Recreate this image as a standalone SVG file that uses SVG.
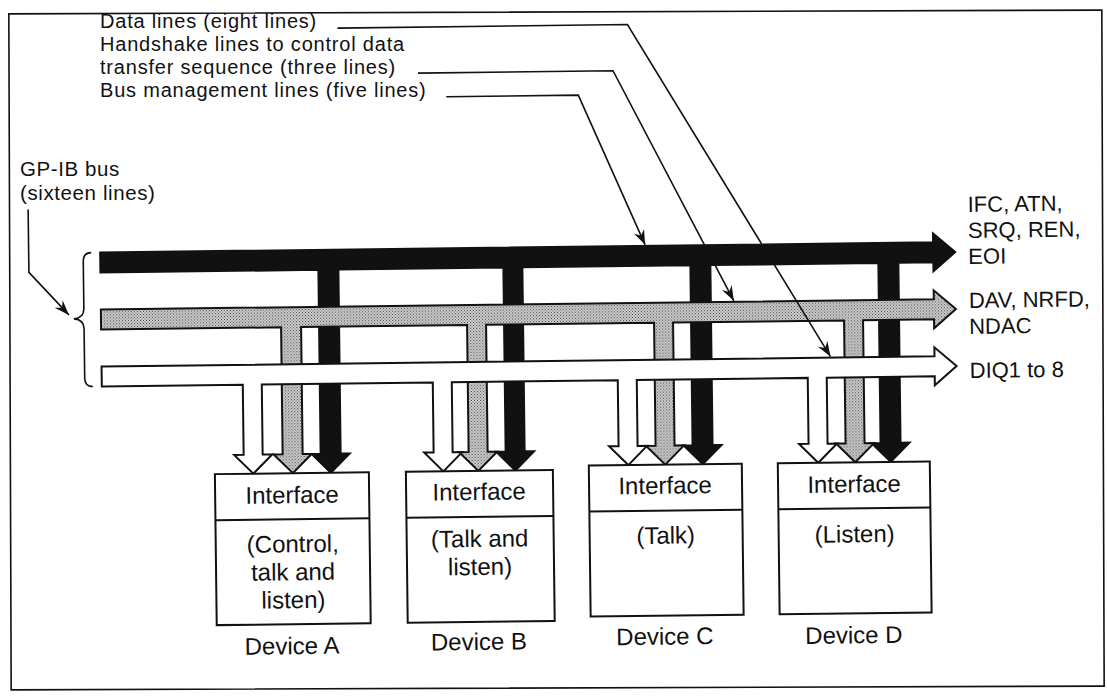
<svg xmlns="http://www.w3.org/2000/svg" width="1107" height="696" viewBox="0 0 1107 696">
  <style>
    .t { font-family: "Liberation Sans", Arial, Helvetica, sans-serif; font-size: 22px; fill: #111; }
    .tg { font-family: "Liberation Sans", Arial, Helvetica, sans-serif; font-size: 20.5px; letter-spacing: 0.6px; fill: #111; }
    .tt { font-family: "Liberation Sans", Arial, Helvetica, sans-serif; font-size: 20px; letter-spacing: 0.8px; fill: #111; }
    .dv { font-family: "Liberation Sans", Arial, Helvetica, sans-serif; font-size: 24px; fill: #111; text-anchor: middle; }
    .box { fill: #fff; stroke: #111; stroke-width: 2; }
    .div { stroke: #111; stroke-width: 2; }
    .bus { stroke: #111; stroke-width: 2; stroke-linejoin: miter; }
    .lead { fill: none; stroke: #111; stroke-width: 1.6; }
  </style>
  <defs>
    <pattern id="stipple" width="3" height="3" patternUnits="userSpaceOnUse">
      <rect width="3" height="3" fill="#d4d4d4"/>
      <rect width="1" height="1" fill="#3c3c3c"/>
      <rect x="1.5" y="1.5" width="1" height="1" fill="#3c3c3c"/>
    </pattern>
    <marker id="ah" viewBox="-16 -6 17 12" refX="0" refY="0" markerWidth="17" markerHeight="12" markerUnits="userSpaceOnUse" orient="auto">
      <path d="M0,0 L-15,-5.5 L-10,0 L-15,5.5 Z" fill="#111"/>
    </marker>
  </defs>
  <rect x="0" y="0" width="1107" height="696" fill="#fff"/>
  <rect x="10" y="12" width="1093" height="676" fill="none" stroke="#111" stroke-width="1.6" transform="rotate(-0.2 556 350)"/>

  <g id="label-top">
    <text class="tt" x="100" y="28">Data lines (eight lines)</text>
    <text class="tt" x="100" y="51">Handshake lines to control data</text>
    <text class="tt" x="100" y="74">transfer sequence (three lines)</text>
    <text class="tt" x="100" y="97">Bus management lines (five lines)</text>
  </g>
  <g id="label-gpib">
    <text class="tg" x="20" y="176">GP-IB bus</text>
    <text class="tg" x="20" y="200">(sixteen lines)</text>
  </g>

  <g transform="rotate(-0.7 553 400)">
    <g id="connectors">
      <path id="bus-management" class="bus" fill="#111" d="M102,247 H935 V238 L957,257 L935,276 V267 H900 V447 H909 L890,466 L871,447 H880 V267 H712 V447 H721 L702,466 L683,447 H692 V267 H524 V451 H533.5 L514.5,470 L495.5,451 H505 V267 H340 V451 H349 L330,470 L311,451 H320 V267 H102 Z"/>
      <path id="bus-handshake" class="bus" fill="url(#stipple)" d="M102,304 H935 V295 L957,314 L935,333 V324 H864 V447 H873.5 L854.5,466 L835.5,447 H845 V324 H674 V447 H683.5 L664.5,466 L645.5,447 H655 V324 H487 V451 H496.5 L477.5,470 L458.5,451 H468 V324 H302 V451 H311 L292,470 L273,451 H282 V324 H102 Z"/>
      <path id="bus-data" class="bus" fill="#fff" d="M102,361 H935 V352 L957,371 L935,390 V381 H827 V447 H836.5 L817.5,466 L798.5,447 H808 V381 H637 V447 H646.5 L627.5,466 L608.5,447 H618 V381 H452 V451 H461.5 L442.5,470 L423.5,451 H433 V381 H262 V451 H271.5 L252.5,470 L233.5,451 H243 V381 H102 Z"/>
      <path id="brace" class="lead" d="M93,247 Q85,247 85,256 V303 Q85,312 75,313 Q85,314 85,323 V372 Q85,381 93,381"/>
      <path id="leader-data" class="lead" marker-end="url(#ah)" d="M342,25.5 H632 L831,360"/>
      <path id="leader-handshake" class="lead" marker-end="url(#ah)" d="M422,71.5 H617 L735,303"/>
      <path id="leader-management" class="lead" marker-end="url(#ah)" d="M450,95.5 H582 L647,246"/>
      <path id="leader-gpib" class="lead" marker-end="url(#ah)" d="M30.5,203 V266 L70,309"/>
    </g>

    <g id="label-signals">
      <text class="t" x="970" y="217">IFC, ATN,</text>
      <text class="t" x="970" y="243">SRQ, REN,</text>
      <text class="t" x="970" y="269">EOI</text>
      <text class="t" x="970" y="313">DAV, NRFD,</text>
      <text class="t" x="970" y="339">NDAC</text>
      <text class="t" x="970" y="383">DIQ1 to 8</text>
    </g>

    <g id="device-a">
      <rect class="box" x="214" y="470" width="154" height="151"/>
      <line class="div" x1="214" y1="516" x2="368" y2="516"/>
      <text class="dv" x="291" y="500">Interface</text>
      <text class="dv" x="291" y="549">(Control,</text>
      <text class="dv" x="291" y="577">talk and</text>
      <text class="dv" x="291" y="605">listen)</text>
      <text class="dv" x="289" y="651">Device A</text>
    </g>
    <g id="device-b">
      <rect class="box" x="405" y="470" width="147" height="151"/>
      <line class="div" x1="405" y1="516" x2="552" y2="516"/>
      <text class="dv" x="478" y="499">Interface</text>
      <text class="dv" x="478" y="546">(Talk and</text>
      <text class="dv" x="478" y="574">listen)</text>
      <text class="dv" x="476" y="649">Device B</text>
    </g>
    <g id="device-c">
      <rect class="box" x="588" y="466" width="153" height="151"/>
      <line class="div" x1="588" y1="512" x2="741" y2="512"/>
      <text class="dv" x="664" y="495">Interface</text>
      <text class="dv" x="664" y="545">(Talk)</text>
      <text class="dv" x="662" y="646">Device C</text>
    </g>
    <g id="device-d">
      <rect class="box" x="777" y="466" width="152" height="151"/>
      <line class="div" x1="777" y1="512" x2="929" y2="512"/>
      <text class="dv" x="853" y="496">Interface</text>
      <text class="dv" x="853" y="546">(Listen)</text>
      <text class="dv" x="851" y="647">Device D</text>
    </g>
  </g>
</svg>
